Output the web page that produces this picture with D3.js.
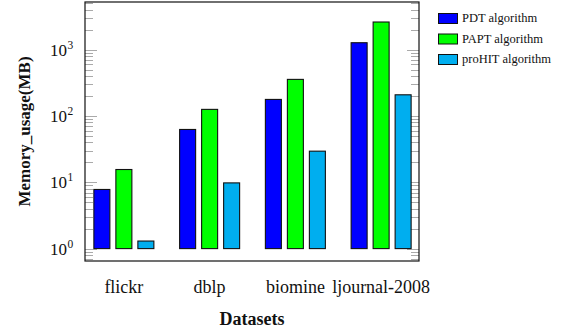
<!DOCTYPE html>
<html><head><meta charset="utf-8">
<script src="https://cdn.jsdelivr.net/npm/d3@7"></script>
<style>body{margin:0;background:#fff}svg{display:block}</style>
</head><body>
<svg id="c" width="564" height="334"></svg>
<script>
const categories = ["flickr", "dblp", "biomine", "ljournal-2008"];
const series = ["PDT algorithm", "PAPT algorithm", "proHIT algorithm"];
const pdt = [7.8, 62.7, 178, 1276];
const papt = [15.6, 126, 357, 2620];
const prohit = [1.3, 9.8, 29.5, 209];
const colors = ["#0000ff", "#00ff00", "#00aeef"];
const yTicks = [1, 10, 100, 1000];
const yDomain = [0.65, 5250];

const values = [pdt, papt, prohit];
const svg = d3.select("#c");
const font = "'Liberation Serif', 'DejaVu Serif', serif";
const L = 85, R = 419, T = 2, B = 261;

const y = d3.scaleLog().domain(yDomain).range([B, T]);
const x = d3.scaleBand().domain(categories).range([81, 424]).padding(0);
const xs = d3.scalePoint().domain(series).range([-22, 22]);
const bw = 16;

// minor/major ticks
const minor = [];
for (let e = -1; e <= 4; e++) for (let m = 2; m <= 9; m++) {
  const v = m * Math.pow(10, e);
  if (v > yDomain[0] && v < yDomain[1]) minor.push(v);
}
const tg = svg.append("g").attr("stroke", "#aaa").attr("stroke-width", 1);
minor.forEach(v => {
  const yy = Math.round(y(v)) + 0.5;
  tg.append("line").attr("x1", L).attr("x2", L + 8).attr("y1", yy).attr("y2", yy);
  tg.append("line").attr("x1", R - 8).attr("x2", R).attr("y1", yy).attr("y2", yy);
});
yTicks.forEach(v => {
  const yy = Math.round(y(v)) + 0.5;
  tg.append("line").attr("x1", L).attr("x2", L + 12).attr("y1", yy).attr("y2", yy);
  tg.append("line").attr("x1", R - 12).attr("x2", R).attr("y1", yy).attr("y2", yy);
});

// bars
series.forEach((s, si) => {
  svg.append("g").selectAll("rect").data(categories).join("rect")
    .attr("x", c => x(c) + x.bandwidth() / 2 + xs(s) - bw / 2)
    .attr("width", bw)
    .attr("y", (c, i) => y(values[si][i]))
    .attr("height", (c, i) => y(1) - y(values[si][i]))
    .attr("fill", colors[si])
    .attr("stroke", "#111")
    .attr("stroke-width", 1.1);
});

// frame
svg.append("rect").attr("x", L).attr("y", T).attr("width", R - L).attr("height", B - T)
  .attr("fill", "none").attr("stroke", "#111").attr("stroke-width", 1.2);

// y tick labels
yTicks.forEach(v => {
  svg.append("text").attr("x", 67).attr("y", y(v) + 6)
    .attr("text-anchor", "end").attr("font-family", font).attr("font-size", 17).attr("fill", "#111").text("10");
  svg.append("text").attr("x", 67.5).attr("y", y(v) - 1).attr("font-family", font)
    .attr("font-size", 11.5).attr("fill", "#111").text(Math.round(Math.log10(v)));
});

// x labels
svg.append("g").selectAll("text").data(categories).join("text")
  .attr("x", c => x(c) + x.bandwidth() / 2).attr("y", 293)
  .attr("text-anchor", "middle").attr("font-family", font).attr("font-size", 18)
  .attr("fill", "#111").text(c => c);

// titles
svg.append("text").attr("x", (L + R) / 2).attr("y", 325).attr("text-anchor", "middle")
  .attr("font-family", font).attr("font-size", 18).attr("font-weight", "bold").attr("fill", "#111").text("Datasets");
svg.append("text").attr("transform", `translate(30,${(T + B) / 2}) rotate(-90)`).attr("text-anchor", "middle")
  .attr("font-family", font).attr("font-size", 17).attr("font-weight", "bold").attr("fill", "#111").text("Memory_usage(MB)");

// legend
const lg = svg.append("g");
series.forEach((s, i) => {
  const yy = 13 + i * 20.5;
  lg.append("rect").attr("x", 438.5).attr("y", yy + 0.5).attr("width", 19).attr("height", 10)
    .attr("fill", colors[i]).attr("stroke", "#111").attr("stroke-width", 1);
  lg.append("text").attr("x", 462).attr("y", yy + 9).attr("font-family", font).attr("font-size", 12.5)
    .attr("fill", "#111").text(s);
});
</script>
</body></html>
